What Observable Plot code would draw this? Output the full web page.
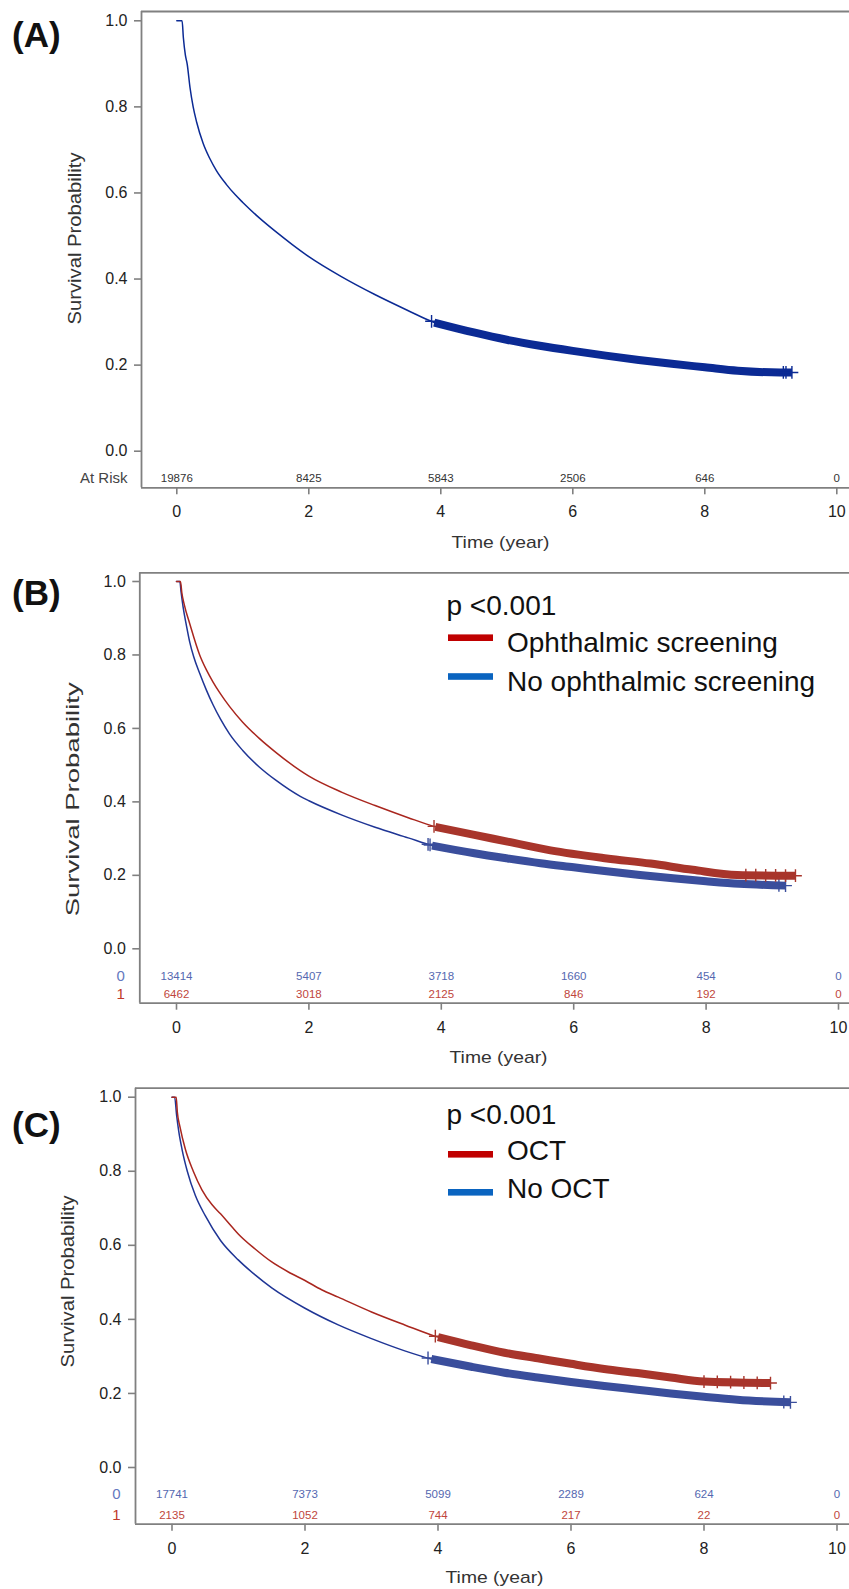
<!DOCTYPE html>
<html><head><meta charset="utf-8">
<script src="https://cdn.jsdelivr.net/npm/d3@7"></script>
<script src="https://cdn.jsdelivr.net/npm/@observablehq/plot@0.6"></script>
<style>
body{margin:0;background:#fff;}
#root{position:relative;width:849px;height:1589px;overflow:hidden;background:#fff;font-family:"Liberation Sans",Arial,sans-serif;}
#root svg{position:absolute;left:0;overflow:visible;}
</style></head><body><div id="root"></div>
<script>
// ---------- data ----------
const timeTicks = [0, 2, 4, 6, 8, 10];
const survTicks = [0, 0.2, 0.4, 0.6, 0.8, 1.0];
const riskTimes = [0, 2, 4, 6, 8, 10];

// Panel A: overall
const aTime = [0,0.08,0.1,0.13,0.157,0.2,0.248,0.3,0.4,0.5,0.6,0.75,0.89,1.0,1.25,1.5,1.75,2.0,2.5,3.0,3.5,3.9,4.5,5,5.5,6,6.5,7,7.5,8,8.5,9.14,9.32];
const aSurv = [1,1,0.96,0.92,0.9,0.845,0.8,0.765,0.715,0.68,0.652,0.62,0.595,0.578,0.542,0.51,0.48,0.452,0.405,0.364,0.327,0.299,0.276,0.259,0.245,0.233,0.222,0.212,0.203,0.195,0.187,0.183,0.183];
const aCensorStart = 3.9;
const aCensorTail = [3.86, 9.19, 9.23, 9.32];
const aRisk = [19876, 8425, 5843, 2506, 646, 0];

// Panel B: ophthalmic screening (1) vs none (0)
const bScrTime = [0,0.06,0.08,0.12,0.2,0.35,0.45,0.55,0.665,0.8,1.0,1.25,1.5,1.87,2.0,2.5,3.0,3.5,3.91,4.5,5,5.65,6.5,7.16,7.8,8.47,9.35];
const bScrSurv = [1,1,0.97,0.935,0.885,0.8,0.76,0.727,0.694,0.66,0.617,0.573,0.535,0.485,0.47,0.426,0.39,0.357,0.332,0.31,0.292,0.268,0.246,0.232,0.215,0.201,0.199];
const bNoTime = [0,0.05,0.07,0.1,0.15,0.2,0.26,0.35,0.45,0.55,0.665,0.8,1.0,1.25,1.5,1.87,2.0,2.5,3.0,3.5,3.86,4.5,5,5.5,6,6.5,7,7.5,8,8.5,9.2];
const bNoSurv = [1,1,0.97,0.93,0.88,0.835,0.795,0.75,0.705,0.665,0.625,0.585,0.54,0.495,0.459,0.415,0.403,0.364,0.331,0.302,0.281,0.26,0.246,0.233,0.222,0.211,0.201,0.192,0.184,0.177,0.172];
const bScrCensorStart = 3.91, bNoCensorStart = 3.86;
const bScrCensorTail = [3.89, 8.6, 8.75, 8.9, 9.05, 9.2, 9.35];
const bNoCensorTail = [3.8, 3.83, 9.1, 9.2];
const bRisk0 = [13414, 5407, 3718, 1660, 454, 0];
const bRisk1 = [6462, 3018, 2125, 846, 192, 0];

// Panel C: OCT (1) vs no OCT (0)
const cOctTime = [0,0.063,0.08,0.12,0.2,0.32,0.45,0.6,0.73,0.9,1.0,1.25,1.5,1.75,2.0,2.25,2.5,3.0,3.5,4.0,4.5,5,5.5,6,6.5,7,7.5,8,9.0];
const cOctSurv = [1,1,0.96,0.92,0.86,0.8,0.75,0.71,0.685,0.65,0.63,0.59,0.555,0.528,0.505,0.48,0.46,0.42,0.385,0.352,0.33,0.31,0.295,0.28,0.266,0.255,0.243,0.232,0.228];
const cNoTime = [0,0.04,0.07,0.1,0.15,0.23,0.35,0.5,0.73,1.0,1.25,1.5,2.0,2.5,3.0,3.5,3.9,4.5,5,5.5,6,6.5,7,7.5,8,8.5,9.3];
const cNoSurv = [1,1,0.95,0.91,0.86,0.8,0.735,0.68,0.613,0.56,0.52,0.485,0.43,0.385,0.348,0.315,0.293,0.272,0.256,0.243,0.231,0.22,0.21,0.2,0.191,0.183,0.176];
const cOctCensorStart = 4.0, cNoCensorStart = 3.9;
const cOctCensorTail = [3.96, 8.0, 8.2, 8.4, 8.6, 8.8, 9.0];
const cNoCensorTail = [3.85, 9.2, 9.3];
const cRisk0 = [17741, 7373, 5099, 2289, 624, 0];
const cRisk1 = [2135, 1052, 744, 217, 22, 0];

// ---------- styling ----------
const FONT = '"Liberation Sans", Arial, sans-serif';
const frameColor = "#808080";
const W = 849;
const root = document.getElementById("root");

function pts(times, surv) { return times.map((t, i) => ({t, s: surv[i]})); }
function onCurve(times, surv, t) { return d3.scaleLinear().domain(times).range(surv).clamp(true)(t); }

function kmPanel(cfg) {
  const g = cfg.geom;
  const H = g.height;
  const kx = (g.x10 - g.x0) / 10;
  const ky = (g.y0 - g.y1);
  const xDom = [(g.left - g.x0) / kx, (W - g.x0) / kx];
  const yDom = [(g.y0 - g.axis) / ky, (g.y0 - g.top) / ky];
  const yv = px => (g.y0 - px) / ky;
  const marks = [];
  marks.push(Plot.ruleY([yDom[1]], {stroke: frameColor, strokeWidth: 1.8}));
  marks.push(Plot.ruleY([yDom[0]], {stroke: frameColor, strokeWidth: 1.8}));
  marks.push(Plot.ruleX([xDom[0]], {stroke: frameColor, strokeWidth: 1.8}));
  marks.push(Plot.axisY({ticks: survTicks, tickFormat: d => d.toFixed(1), tickSize: 7, tickPadding: 7,
    fontSize: 16, stroke: frameColor, strokeWidth: 1.6, fill: "#222", label: null}));
  marks.push(Plot.axisX({ticks: timeTicks, tickFormat: d => String(d), tickSize: 7, tickPadding: 11,
    fontSize: 16, stroke: frameColor, strokeWidth: 1.6, fill: "#222", label: null}));
  for (const s of cfg.series) {
    const p = pts(s.time, s.surv);
    marks.push(Plot.line(p, {x: "t", y: "s", stroke: s.color, strokeWidth: 1.5, curve: "monotone-x"}));
    marks.push(Plot.line(p.filter(d => d.t >= s.censorStart), {x: "t", y: "s", stroke: s.bandColor, strokeWidth: 8, strokeLinecap: "butt", curve: "monotone-x"}));
    marks.push(Plot.dot(s.censorTail.map(t => ({t, s: onCurve(s.time, s.surv, t)})), {x: "t", y: "s", symbol: "plus", r: 4.2, stroke: s.bandColor, strokeWidth: 1.4}));
  }
  for (const r of cfg.risk) {
    marks.push(Plot.text(r.values.map((v, i) => ({t: riskTimes[i], v})), {x: "t", y: () => yv(r.ypx), text: d => String(d.v),
      fill: r.color, fontSize: 11.5, fontFamily: FONT, textAnchor: "middle", lineAnchor: "middle"}));
    marks.push(Plot.text([r.label], {x: () => xDom[0], y: () => yv(r.ypx), text: d => d, dx: -r.labelGap,
      fill: r.labelColor, fontSize: r.labelSize, fontFamily: FONT, textAnchor: "end", lineAnchor: "middle"}));
  }
  marks.push(Plot.text(["Time (year)"], {x: () => (g.timeX - g.x0) / kx, frameAnchor: "bottom", dy: g.timeDy, text: d => d,
    fontSize: 17, fontFamily: FONT, fill: "#333", textAnchor: "middle", lineAnchor: "middle"}));
  marks.push(Plot.text(["Survival Probability"], {y: () => yv(g.survY), frameAnchor: "left", dx: -(g.left - g.survX), text: d => d,
    rotate: -90, fontSize: 18, fontFamily: FONT, fill: "#333", textAnchor: "middle", lineAnchor: "middle"}));

  const svg = Plot.plot({
    width: W, height: H,
    marginTop: g.top, marginBottom: H - g.axis, marginLeft: g.left, marginRight: 0,
    x: {domain: xDom}, y: {domain: yDom},
    style: {fontFamily: FONT, background: "transparent", overflow: "visible"},
    marks
  });
  root.appendChild(svg);
  d3.select(svg).selectAll("text").each(function() {
    const t = this.textContent;
    if (t === "Survival Probability") { this.setAttribute("textLength", g.survLen); this.setAttribute("lengthAdjust", "spacingAndGlyphs"); }
    if (t === "Time (year)") { this.setAttribute("textLength", g.timeLen); this.setAttribute("lengthAdjust", "spacingAndGlyphs"); }
  });
  return svg;
}

function localize(g) {
  const o = {...g};
  for (const k of ["top", "y1", "y0", "axis", "survY"]) o[k] = g[k] - g.svgTop;
  return o;
}

const blueA = "#0b2a94";
const redCurve = "#a9261e", redBand = "#a8352b";
const blueCurve = "#1f3595", blueBand = "#3a4e9c";
const riskBlue = "#5468b0", riskRed = "#c0463c";

function make(cfg) {
  const page = cfg.geom.svgTop;
  const c = {...cfg, geom: localize(cfg.geom)};
  c.risk = cfg.risk.map(r => ({...r, ypx: r.ypx - page}));
  const svg = kmPanel(c);
  svg.style.top = page + "px";
}

make({
  geom: {svgTop: 0, height: 560, left: 141, top: 11, x0: 176.3, x10: 836.3, y1: 20.3, y0: 450.7, axis: 487.3,
    timeX: 500, timeDy: 54.7, timeLen: 98, survX: 75, survY: 238, survLen: 172},
  series: [{time: aTime, surv: aSurv, color: blueA, bandColor: blueA, censorStart: aCensorStart, censorTail: aCensorTail}],
  risk: [{values: aRisk, ypx: 478, color: "#333", label: "At Risk", labelColor: "#444", labelSize: 15, labelGap: 14}]
});

make({
  geom: {svgTop: 560, height: 510, left: 139.3, top: 572.3, x0: 176, x10: 838, y1: 581, y0: 948.3, axis: 1002.7,
    timeX: 498, timeDy: 54, timeLen: 98, survX: 72.5, survY: 798.8, survLen: 234},
  series: [
    {time: bNoTime, surv: bNoSurv, color: blueCurve, bandColor: blueBand, censorStart: bNoCensorStart, censorTail: bNoCensorTail},
    {time: bScrTime, surv: bScrSurv, color: redCurve, bandColor: redBand, censorStart: bScrCensorStart, censorTail: bScrCensorTail}
  ],
  risk: [
    {values: bRisk0, ypx: 976, color: riskBlue, label: "0", labelColor: "#6478c0", labelSize: 15, labelGap: 15},
    {values: bRisk1, ypx: 994, color: riskRed, label: "1", labelColor: "#c0392b", labelSize: 15, labelGap: 15}
  ]
});

make({
  geom: {svgTop: 1070, height: 519, left: 135, top: 1087.7, x0: 171.5, x10: 836.5, y1: 1096.7, y0: 1467, axis: 1523.7,
    timeX: 494, timeDy: 53, timeLen: 98, survX: 67.5, survY: 1281, survLen: 172},
  series: [
    {time: cNoTime, surv: cNoSurv, color: blueCurve, bandColor: blueBand, censorStart: cNoCensorStart, censorTail: cNoCensorTail},
    {time: cOctTime, surv: cOctSurv, color: redCurve, bandColor: redBand, censorStart: cOctCensorStart, censorTail: cOctCensorTail}
  ],
  risk: [
    {values: cRisk0, ypx: 1494, color: riskBlue, label: "0", labelColor: "#6478c0", labelSize: 15, labelGap: 15},
    {values: cRisk1, ypx: 1515, color: riskRed, label: "1", labelColor: "#c0392b", labelSize: 15, labelGap: 15}
  ]
});

// ---------- overlay: panel letters and legends ----------
const ov = d3.select(root).append("svg").attr("width", W).attr("height", 1589).style("top", "0px").style("pointer-events", "none");
const letters = [["(A)", 46.7], ["(B)", 605], ["(C)", 1136.5]];
for (const [t, y] of letters) ov.append("text").attr("x", 12).attr("y", y).attr("font-family", FONT).attr("font-weight", "bold").attr("font-size", 35).attr("fill", "#111").text(t);

const legends = [
  {p: 615, items: [["Ophthalmic screening", "#c00000", 637.7, 651.7], ["No ophthalmic screening", "#0a64c0", 676.5, 690.7]]},
  {p: 1124, items: [["OCT", "#c00000", 1154.3, 1160.3], ["No OCT", "#0a64c0", 1192.3, 1198.3]]}
];
for (const L of legends) {
  ov.append("text").attr("x", 446.5).attr("y", L.p).attr("font-family", FONT).attr("font-size", 28).attr("fill", "#111").text("p <0.001");
  for (const [lab, col, ly, ty] of L.items) {
    ov.append("rect").attr("x", 448).attr("y", ly - 3.3).attr("width", 45).attr("height", 6.6).attr("fill", col);
    ov.append("text").attr("x", 507).attr("y", ty).attr("font-family", FONT).attr("font-size", 28).attr("fill", "#111").text(lab);
  }
}
</script></body></html>
